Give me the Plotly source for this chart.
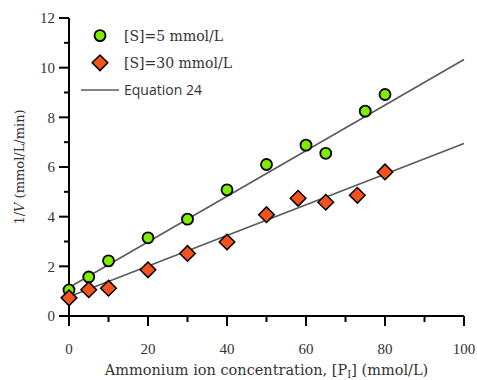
import plotly.graph_objects as go

# Measured reciprocal rates at two substrate levels
conc_s5 = [0, 5, 10, 20, 30, 40, 50, 60, 65, 75, 80]
inv_v_s5 = [1.05, 1.57, 2.22, 3.15, 3.9, 5.08, 6.1, 6.88, 6.55, 8.25, 8.92]

conc_s30 = [0, 5, 10, 20, 30, 40, 50, 58, 65, 73, 80]
inv_v_s30 = [0.73, 1.06, 1.12, 1.86, 2.52, 2.98, 4.08, 4.74, 4.58, 4.86, 5.8]

# Equation 24 model lines (evaluated at the ends of the concentration range)
model_x = [0, 100]
model_s5 = [1.15, 10.33]
model_s30 = [0.78, 6.95]

# Axis ranges and tick values
x_range = [0, 100]
y_range = [0, 12]
x_major = [0, 20, 40, 60, 80, 100]
x_minor = [10, 30, 50, 70, 90]
y_major = [0, 2, 4, 6, 8, 10, 12]
y_minor = [1, 3, 5, 7, 9, 11]

SERIF = "Liberation Serif"
SERIF_WIDE = "DejaVu Serif"
SANS = "Open Sans"
LINE_COLOR = "#5a5a5a"
TEXT_COLOR = "#333333"
AXIS_COLOR = "#000000"
AXIS_W = 2
CLEAR = "rgba(0,0,0,0)"

# Figure and plotting-area geometry (pixels)
W, H = 477, 380
PLOT_L, PLOT_R, PLOT_T, PLOT_B = 69, 464, 18, 316

x_dom = [PLOT_L / W, PLOT_R / W]
y_dom = [1 - PLOT_B / H, 1 - PLOT_T / H]

# Full-figure drawing axes share the data scale of the labelled axes,
# so the frame and ticks can extend outside the plotting area.
xu = (x_range[1] - x_range[0]) / (PLOT_R - PLOT_L)   # data units per pixel
yu = (y_range[1] - y_range[0]) / (PLOT_B - PLOT_T)
x2_range = [x_range[0] - PLOT_L * xu, x_range[1] + (W - PLOT_R) * xu]
y2_range = [y_range[0] - (H - PLOT_B) * yu, y_range[1] + PLOT_T * yu]

MAJOR_LEN, MINOR_LEN_X, MINOR_LEN_Y = 10, 6, 5

frame_x, frame_y = [x_range[1], x_range[0], x_range[0]], [y_range[0], y_range[0], y_range[1]]
tick_x, tick_y = [], []
for vals, n in ((x_major, MAJOR_LEN), (x_minor, MINOR_LEN_X)):
    for v in vals:
        tick_x += [v, v, None]
        tick_y += [y_range[0], y_range[0] - n * yu, None]
for vals, n in ((y_major, MAJOR_LEN), (y_minor, MINOR_LEN_Y)):
    for v in vals:
        tick_x += [x_range[0], x_range[0] - n * xu, None]
        tick_y += [v, v, None]

fig = go.Figure()

# Invisible copy of the data on the labelled subplot keeps its axes drawn
fig.add_trace(go.Scatter(
    x=conc_s5, y=inv_v_s5, mode="markers", xaxis="x", yaxis="y",
    marker=dict(color=CLEAR, size=1), showlegend=False, hoverinfo="skip",
))

fig.add_trace(go.Scatter(
    x=tick_x, y=tick_y, mode="lines", xaxis="x2", yaxis="y2",
    line=dict(color=AXIS_COLOR, width=AXIS_W), connectgaps=False,
    showlegend=False, hoverinfo="skip",
))
fig.add_trace(go.Scatter(
    x=frame_x, y=frame_y, mode="lines", xaxis="x2", yaxis="y2",
    line=dict(color=AXIS_COLOR, width=AXIS_W),
    showlegend=False, hoverinfo="skip",
))

fig.add_trace(go.Scatter(
    x=model_x, y=model_s5, mode="lines", xaxis="x2", yaxis="y2",
    line=dict(color=LINE_COLOR, width=1.6),
    name=f'<span style="font-family:{SANS}">Equation 24</span>',
    legendgroup="c", legendrank=3, showlegend=True,
))
fig.add_trace(go.Scatter(
    x=model_x, y=model_s30, mode="lines", xaxis="x2", yaxis="y2",
    line=dict(color=LINE_COLOR, width=1.6),
    legendgroup="c", showlegend=False,
))
fig.add_trace(go.Scatter(
    x=conc_s5, y=inv_v_s5, mode="markers", xaxis="x2", yaxis="y2",
    marker=dict(symbol="circle", size=11, color="#7fec00",
                line=dict(color="black", width=1.8)),
    name="[S]=5 mmol/L", legendgroup="a", legendrank=1,
))
fig.add_trace(go.Scatter(
    x=conc_s30, y=inv_v_s30, mode="markers", xaxis="x2", yaxis="y2",
    marker=dict(symbol="diamond", size=12, color="#f4531b",
                line=dict(color="black", width=1.5)),
    name="[S]=30 mmol/L", legendgroup="b", legendrank=2,
))

label_axis = dict(
    visible=True, showticklabels=True,
    showline=False, ticks="outside", ticklen=MAJOR_LEN, tickwidth=AXIS_W,
    tickcolor=CLEAR, showgrid=False, zeroline=False, automargin=False,
    tickfont=dict(family=SERIF, size=15, color=TEXT_COLOR),
)

fig.update_layout(
    width=W, height=H,
    margin=dict(l=0, r=0, t=0, b=0),
    plot_bgcolor=CLEAR, paper_bgcolor="white",
    xaxis=dict(
        domain=x_dom, anchor="y", range=x_range,
        tickvals=x_major, ticktext=[str(v) for v in x_major],
        title=dict(text="Ammonium ion concentration, [P<sub>I</sub>] (mmol/L)",
                   font=dict(family=SERIF_WIDE, size=14.5, color=TEXT_COLOR), standoff=10),
        ticklabelstandoff=9,
        **label_axis,
    ),
    yaxis=dict(
        domain=y_dom, anchor="x", range=y_range,
        tickvals=y_major, ticktext=[str(v) for v in y_major],
        title=dict(text="1/<i>V</i> (mmol/L/min)",
                   font=dict(family=SERIF_WIDE, size=13, color=TEXT_COLOR), standoff=12),
        **label_axis,
    ),
    xaxis2=dict(domain=[0, 1], anchor="y2", range=x2_range, visible=False),
    yaxis2=dict(domain=[0, 1], anchor="x2", range=y2_range, visible=False),
    showlegend=True,
    legend=dict(
        x=(PLOT_L + 7) / W, y=1 - (PLOT_T + 2) / H, xanchor="left", yanchor="top",
        bgcolor=CLEAR, borderwidth=0,
        font=dict(family=SERIF_WIDE, size=14, color=TEXT_COLOR),
        itemwidth=38, tracegroupgap=6,
        traceorder="grouped",
    ),
)

fig.write_html("out.html")
